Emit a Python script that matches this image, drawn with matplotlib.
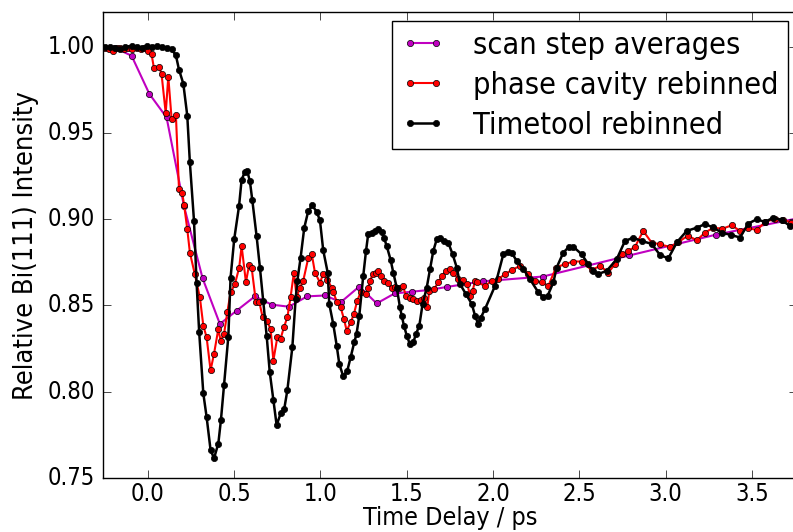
import matplotlib
matplotlib.use('Agg')
import matplotlib.pyplot as plt

# scan step averages
scan_t = [-0.195, -0.095, 0.008, 0.108, 0.209, 0.317, 0.417, 0.514, 0.620, 0.717,
          0.817, 0.923, 1.026, 1.119, 1.225, 1.326, 1.430, 1.530, 1.630, 1.735,
          1.942, 2.290, 2.790, 3.290, 3.790]
scan_i = [0.9995, 0.9948, 0.9727, 0.9590, 0.9076, 0.8657, 0.8393, 0.8470, 0.8553, 0.8505,
          0.8493, 0.8553, 0.8558, 0.8520, 0.8610, 0.8512, 0.8570, 0.8580, 0.8590, 0.8608,
          0.8640, 0.8668, 0.8790, 0.8910, 0.9010]

# phase cavity rebinned
pc_t = [-0.249, -0.226, -0.205, -0.182, -0.160, -0.137, -0.114, -0.090, -0.066, -0.043,
        -0.020, 0.000, 0.021, 0.035, 0.064, 0.079, 0.103, 0.118, 0.137, 0.162,
        0.180, 0.199, 0.210, 0.228, 0.243, 0.272, 0.301, 0.321, 0.340, 0.363,
        0.383, 0.408, 0.421, 0.441, 0.460, 0.479, 0.504, 0.529, 0.543, 0.568,
        0.586, 0.601, 0.626, 0.646, 0.665, 0.688, 0.711, 0.727, 0.750, 0.769,
        0.788, 0.808, 0.827, 0.846, 0.862, 0.881, 0.900, 0.929, 0.949, 0.968,
        0.997, 1.016, 1.040, 1.065, 1.074, 1.097, 1.117, 1.136, 1.152, 1.175,
        1.194, 1.213, 1.233, 1.264, 1.277, 1.287, 1.303, 1.322, 1.335, 1.349,
        1.368, 1.393, 1.413, 1.432, 1.457, 1.477, 1.496, 1.519, 1.538, 1.561,
        1.581, 1.600, 1.619, 1.631, 1.658, 1.683, 1.703, 1.728, 1.751, 1.770,
        1.799, 1.828, 1.851, 1.867, 1.882, 1.896, 1.909, 1.954, 1.993, 2.031,
        2.070, 2.108, 2.157, 2.205, 2.243, 2.282, 2.321, 2.365, 2.417, 2.466,
        2.514, 2.572, 2.620, 2.669, 2.707, 2.746, 2.784, 2.823, 2.871, 2.920,
        2.968, 3.026, 3.075, 3.130, 3.181, 3.229, 3.277, 3.330, 3.384, 3.432,
        3.480, 3.529, 3.577, 3.635, 3.683, 3.730]
pc_i = [0.9995, 0.9985, 0.9977, 0.9990, 0.9995, 0.9985, 0.9992, 0.9988, 0.9995, 0.9985,
        0.9990, 0.9975, 0.9956, 0.9875, 0.9885, 0.9840, 0.9615, 0.9827, 0.9583, 0.9606,
        0.9173, 0.9150, 0.9080, 0.8942, 0.8807, 0.8680, 0.8547, 0.8383, 0.8316, 0.8124,
        0.8220, 0.8364, 0.8297, 0.8335, 0.8460, 0.8576, 0.8624, 0.8720, 0.8845, 0.8634,
        0.8735, 0.8720, 0.8518, 0.8518, 0.8431, 0.8412, 0.8364, 0.8181, 0.8316, 0.8307,
        0.8374, 0.8431, 0.8550, 0.8691, 0.8547, 0.8604, 0.8643, 0.8774, 0.8801, 0.8691,
        0.8633, 0.8682, 0.8650, 0.8604, 0.8576, 0.8518, 0.8489, 0.8422, 0.8354, 0.8402,
        0.8451, 0.8528, 0.8576, 0.8566, 0.8604, 0.8643, 0.8682, 0.8691, 0.8701, 0.8672,
        0.8643, 0.8628, 0.8601, 0.8609, 0.8601, 0.8614, 0.8557, 0.8543, 0.8537, 0.8524,
        0.8532, 0.8543, 0.8489, 0.8585, 0.8595, 0.8634, 0.8672, 0.8701, 0.8711, 0.8691,
        0.8653, 0.8647, 0.8624, 0.8557, 0.8585, 0.8643, 0.8634, 0.8614, 0.8643, 0.8653,
        0.8682, 0.8705, 0.8730, 0.8682, 0.8643, 0.8634, 0.8614, 0.8720, 0.8740, 0.8755,
        0.8755, 0.8705, 0.8730, 0.8691, 0.8740, 0.8797, 0.8816, 0.8840, 0.8932, 0.8864,
        0.8855, 0.8839, 0.8868, 0.8905, 0.8878, 0.8922, 0.8951, 0.8945, 0.8965, 0.8932,
        0.8951, 0.8936, 0.8984, 0.9003, 0.8998, 0.8980]

# timetool rebinned
tt_t = [-0.249, -0.220, -0.191, -0.162, -0.133, -0.095, -0.066, -0.037, -0.008, 0.021,
        0.050, 0.079, 0.108, 0.137, 0.162, 0.180, 0.205, 0.228, 0.243, 0.267,
        0.282, 0.297, 0.321, 0.340, 0.363, 0.383, 0.408, 0.423, 0.441, 0.466,
        0.479, 0.500, 0.528, 0.543, 0.562, 0.576, 0.591, 0.605, 0.630, 0.649,
        0.668, 0.688, 0.706, 0.727, 0.746, 0.769, 0.790, 0.808, 0.837, 0.856,
        0.866, 0.885, 0.906, 0.929, 0.953, 0.978, 0.997, 1.016, 1.042, 1.051,
        1.074, 1.094, 1.109, 1.132, 1.155, 1.175, 1.196, 1.209, 1.225, 1.248,
        1.264, 1.277, 1.297, 1.316, 1.335, 1.355, 1.368, 1.384, 1.407, 1.422,
        1.442, 1.461, 1.471, 1.484, 1.500, 1.519, 1.538, 1.554, 1.573, 1.592,
        1.616, 1.635, 1.654, 1.674, 1.693, 1.716, 1.741, 1.766, 1.790, 1.809,
        1.843, 1.877, 1.896, 1.913, 1.930, 1.954, 2.012, 2.060, 2.085, 2.108,
        2.137, 2.176, 2.214, 2.263, 2.290, 2.317, 2.350, 2.369, 2.408, 2.440,
        2.466, 2.514, 2.552, 2.580, 2.610, 2.659, 2.717, 2.765, 2.813, 2.862,
        2.920, 2.968, 3.016, 3.067, 3.123, 3.181, 3.229, 3.275, 3.326, 3.380,
        3.432, 3.480, 3.529, 3.577, 3.625, 3.674, 3.722]
tt_i = [1.0000, 0.9996, 0.9990, 0.9987, 0.9996, 1.0006, 1.0000, 0.9990, 1.0004, 0.9996,
        1.0004, 1.0000, 0.9994, 0.9985, 0.9950, 0.9867, 0.9786, 0.9600, 0.9330, 0.8990,
        0.8630, 0.8345, 0.7990, 0.7854, 0.7662, 0.7614, 0.7700, 0.7835, 0.8037, 0.8320,
        0.8662, 0.8884, 0.9076, 0.9230, 0.9274, 0.9278, 0.9220, 0.9110, 0.8900, 0.8720,
        0.8528, 0.8326, 0.8114, 0.7950, 0.7806, 0.7874, 0.7900, 0.8008, 0.8258, 0.8537,
        0.8643, 0.8778, 0.8950, 0.9047, 0.9080, 0.9043, 0.8994, 0.8820, 0.8690, 0.8509,
        0.8393, 0.8268, 0.8162, 0.8089, 0.8120, 0.8200, 0.8287, 0.8335, 0.8441, 0.8672,
        0.8816, 0.8916, 0.8922, 0.8932, 0.8942, 0.8928, 0.8893, 0.8845, 0.8763, 0.8691,
        0.8604, 0.8489, 0.8441, 0.8383, 0.8326, 0.8274, 0.8287, 0.8335, 0.8383, 0.8509,
        0.8604, 0.8711, 0.8816, 0.8884, 0.8893, 0.8874, 0.8864, 0.8797, 0.8720, 0.8624,
        0.8566, 0.8509, 0.8441, 0.8395, 0.8430, 0.8480, 0.8614, 0.8797, 0.8810, 0.8807,
        0.8759, 0.8711, 0.8653, 0.8576, 0.8550, 0.8557, 0.8634, 0.8720, 0.8807, 0.8840,
        0.8840, 0.8797, 0.8740, 0.8700, 0.8682, 0.8701, 0.8768, 0.8874, 0.8893, 0.8874,
        0.8857, 0.8793, 0.8773, 0.8868, 0.8932, 0.8951, 0.8972, 0.8953, 0.8922, 0.8909,
        0.8894, 0.8975, 0.9000, 0.8984, 0.9010, 0.8995, 0.8961]

plt.style.use('classic')
plt.rcParams['font.family'] = ['DejaVu Sans']
plt.rcParams['font.stretch'] = 'condensed'
plt.rcParams['font.size'] = 17

fig = plt.figure(figsize=(7.93, 5.32), dpi=100, facecolor='white')
ax = fig.add_axes([0.130, 0.1015, 0.875, 0.8755])

ax.plot(scan_t, scan_i, '-o', color='#c000c0', mec='k', mew=0.5, ms=4.5, lw=1.5,
        label='scan step averages')
ax.plot(pc_t, pc_i, '-o', color='red', mec='k', mew=0.5, ms=4.5, lw=1.5,
        label='phase cavity rebinned')
ax.plot(tt_t, tt_i, '-o', color='black', mec='k', mew=0.5, ms=4.5, lw=1.8,
        label='Timetool rebinned')

ax.set_xlim(-0.26, 3.762)
ax.set_ylim(0.75, 1.02)
ax.set_xticks([0.0, 0.5, 1.0, 1.5, 2.0, 2.5, 3.0, 3.5])
ax.set_yticks([0.75, 0.80, 0.85, 0.90, 0.95, 1.00])
ax.set_yticklabels(['0.75', '0.80', '0.85', '0.90', '0.95', '1.00'])
ax.tick_params(labelsize=17, length=6)
ax.tick_params(axis='x', pad=3)
ax.tick_params(axis='y', pad=6)
ax.set_xlabel('Time Delay / ps', fontsize=18, labelpad=0)
ax.set_ylabel('Relative Bi(111) Intensity', fontsize=19.5, labelpad=6)

ax.legend(loc='upper right', fontsize=22, numpoints=2, handlelength=1.45,
          handletextpad=0.9, borderpad=0.3, labelspacing=0.36,
          borderaxespad=0.3)

fig.savefig('out.png', dpi=100, facecolor='white')
